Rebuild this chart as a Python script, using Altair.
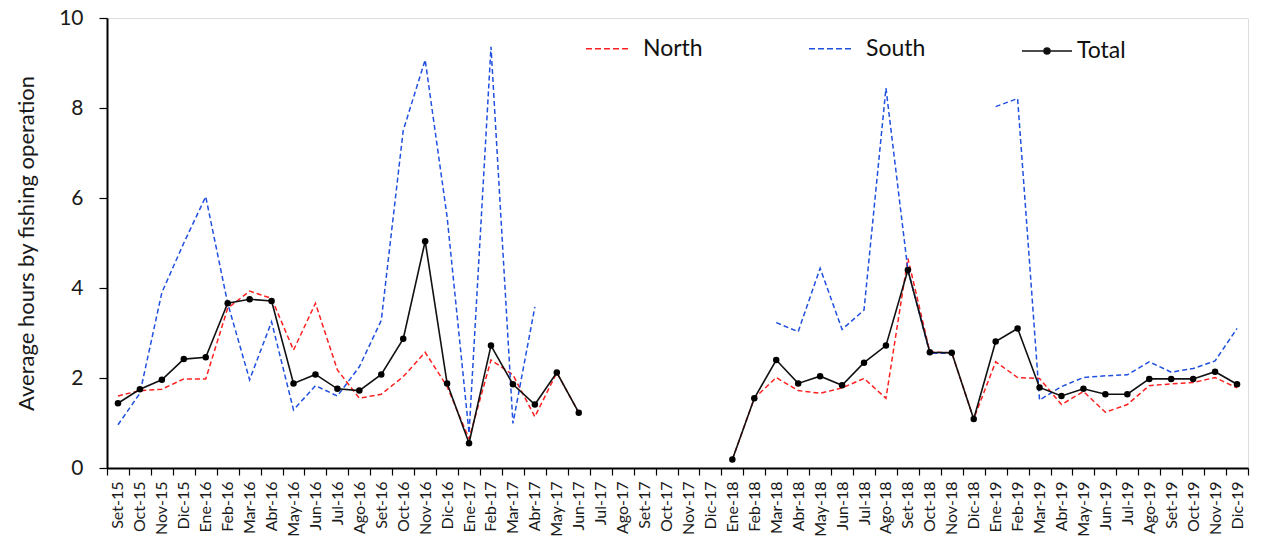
import altair as alt
import pandas as pd

months = ["Set-15","Oct-15","Nov-15","Dic-15",
          "Ene-16","Feb-16","Mar-16","Abr-16","May-16","Jun-16","Jul-16","Ago-16","Set-16","Oct-16","Nov-16","Dic-16",
          "Ene-17","Feb-17","Mar-17","Abr-17","May-17","Jun-17","Jul-17","Ago-17","Set-17","Oct-17","Nov-17","Dic-17",
          "Ene-18","Feb-18","Mar-18","Abr-18","May-18","Jun-18","Jul-18","Ago-18","Set-18","Oct-18","Nov-18","Dic-18",
          "Ene-19","Feb-19","Mar-19","Abr-19","May-19","Jun-19","Jul-19","Ago-19","Set-19","Oct-19","Nov-19","Dic-19"]

N = None
total = [1.44,1.75,1.96,2.42,
         2.46,3.66,3.75,3.71,1.88,2.08,1.76,1.72,2.08,2.87,5.04,1.88,
         0.55,2.72,1.86,1.41,2.12,1.23,N,N,N,N,N,N,
         0.19,1.55,2.40,1.88,2.04,1.84,2.34,2.72,4.40,2.57,2.56,1.09,
         2.81,3.10,1.79,1.60,1.76,1.64,1.64,1.98,1.98,1.98,2.14,1.86]
north = [1.60,1.72,1.75,1.98,
         1.98,3.55,3.93,3.77,2.62,3.66,2.18,1.55,1.64,2.03,2.57,1.81,
         0.65,2.40,2.07,1.14,2.12,1.23,N,N,N,N,N,N,
         0.19,1.55,2.01,1.72,1.66,1.78,1.99,1.55,4.66,2.58,2.56,1.09,
         2.36,2.01,1.99,1.41,1.70,1.24,1.41,1.83,1.87,1.90,2.01,1.78]
south = [0.96,1.66,3.90,5.00,
         6.03,3.66,1.96,3.25,1.29,1.83,1.60,2.25,3.28,7.50,9.07,5.58,
         0.77,9.36,0.99,3.58,N,N,N,N,N,N,N,N,
         N,N,3.23,3.03,4.44,3.08,3.51,8.44,4.40,2.55,2.55,N,
         8.03,8.21,1.51,1.81,2.01,2.05,2.07,2.36,2.13,2.21,2.38,3.10]

rows = []
for name, vals in [("North", north), ("South", south), ("Total", total)]:
    for i, (m, v) in enumerate(zip(months, vals)):
        rows.append({"month": m, "idx": i, "series": name, "value": v})
df = pd.DataFrame(rows)

FONT = "Lato"
TXT = "#1a1a1a"

x_enc = alt.X("month:N", sort=months, bandPosition=0.5,
              scale=alt.Scale(type="band", paddingInner=0, paddingOuter=0),
              axis=alt.Axis(title=None, labelAngle=-90, labelFontSize=16, labelFont=FONT,
                            labelColor=TXT, tickBand="extent", tickSize=7, tickColor="#000",
                            tickWidth=1.2, domainColor="#000", domainWidth=2, labelPadding=6))
y_enc = alt.Y("value:Q", scale=alt.Scale(domain=[0, 10], nice=False),
              axis=alt.Axis(title="Average hours by fishing operation", values=[0, 2, 4, 6, 8, 10],
                            titleFontSize=22, titleFont=FONT, titleFontWeight="normal", titleColor=TXT,
                            labelFontSize=21, labelFont=FONT, labelColor=TXT, tickSize=8,
                            tickColor="#000", tickWidth=1.2, domainColor="#000", domainWidth=2, grid=False,
                            labelPadding=16, titlePadding=20))

ns = alt.Chart(df).transform_filter(alt.datum.series != "Total").mark_line(
    strokeWidth=1.5, invalid="break-paths-show-domains").encode(
    x=x_enc, y=y_enc, order=alt.Order("idx:Q"),
    color=alt.Color("series:N", scale=alt.Scale(domain=["North", "South"], range=["#FF2020", "#2050E0"]),
                    legend=alt.Legend(title=None, orient="none", legendX=478, legendY=7, direction="horizontal",
                                      columns=2, columnPadding=103, symbolType="stroke", symbolSize=2025,
                                      symbolStrokeWidth=1.5, labelFontSize=23, labelFont=FONT,
                                      labelColor="#111", labelOffset=11, symbolDash=[6, 3])),
    strokeDash=alt.StrokeDash("series:N", scale=alt.Scale(domain=["North", "South"], range=[[5, 3], [5, 3]]),
                              legend=None),
)

tot = df[df.series == "Total"]
tline = alt.Chart(tot).mark_line(color="#111", strokeWidth=1.6, invalid="break-paths-show-domains").encode(
    x=x_enc, y=y_enc, order=alt.Order("idx:Q"))

tpts = alt.Chart(tot).mark_circle(size=42, opacity=1, color="#000").encode(x=x_enc, y=y_enc)

# legend glyph: a line with a (solid-looking) dot made of concentric rings
ring = lambda r: f"M{r},0A{r},{r},0,1,1,-{r},0A{r},{r},0,1,1,{r},0"
legend_path = "M-1,0H1" + ring(0.12) + ring(0.08) + ring(0.04)
tleg = alt.Chart(tot).transform_filter("false").mark_point(
    filled=False, color="#111", strokeWidth=1.5, opacity=1).encode(
    x=x_enc, y=y_enc,
    shape=alt.Shape("series:N", scale=alt.Scale(domain=["Total"], range=[legend_path]),
                    legend=alt.Legend(title=None, orient="none", legendX=914, legendY=7,
                                      symbolSize=2500, symbolStrokeColor="#111", symbolStrokeWidth=1.5,
                                      symbolOpacity=1, labelFontSize=23, labelFont=FONT,
                                      labelColor="#111", labelOffset=4)),
)

chart = alt.layer(ns, tline, tpts, tleg).resolve_legend(color="independent", shape="independent").properties(
    width=1141, height=450, autosize="none",
    padding={"left": 107, "top": 18, "right": 13, "bottom": 74},
).configure_view(stroke="#333", strokeWidth=1.5).configure(background="white")

chart.save("out.html", embed_options={"renderer": "svg", "actions": False})
